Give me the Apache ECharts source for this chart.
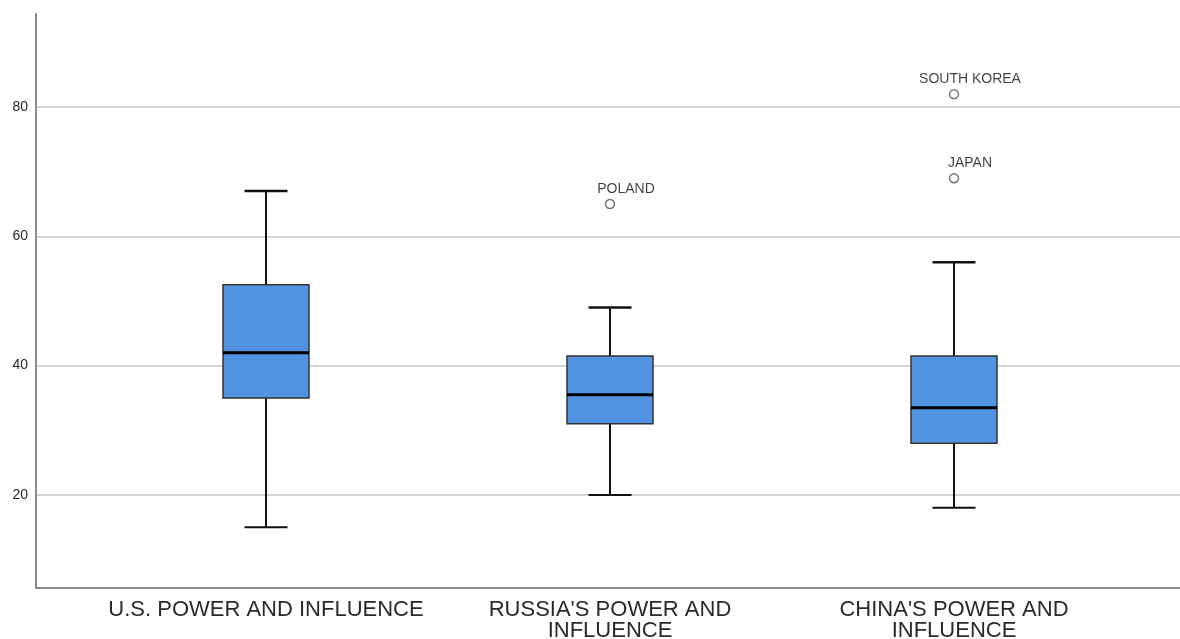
<!DOCTYPE html>
<html>
<head>
<meta charset="utf-8">
<title>Power and influence ratings</title>
<script src="https://cdn.jsdelivr.net/npm/echarts@6/dist/echarts.min.js"></script>
<style>
  html, body { margin: 0; padding: 0; background: #ffffff; }
  #chart { width: 1180px; height: 639px; }
</style>
</head>
<body>
<div id="chart"></div>
<script>
// Category labels along the horizontal axis
const categories = [
  'U.S. POWER AND INFLUENCE',
  "RUSSIA'S POWER AND\nINFLUENCE",
  "CHINA'S POWER AND\nINFLUENCE"
];

// Five-number summaries: [whisker low, Q1, median, Q3, whisker high]
const usStats = [15, 35, 42, 52.5, 67];
const russiaStats = [20, 31, 35.5, 41.5, 49];
const chinaStats = [18, 28, 33.5, 41.5, 56];

// Outlying cases: [category index, value]
const outlierNames = ['POLAND', 'SOUTH KOREA', 'JAPAN'];
const outlierPoints = [[1, 65], [2, 82], [2, 69]];

// Value axis range and tick step
const yMin = 5.6;
const yMax = 94.4;
const yStep = 20;

const boxData = [usStats, russiaStats, chinaStats].map((s, i) => [i].concat(s));
const outlierData = outlierPoints.map((p, i) => ({ value: p, name: outlierNames[i] }));

const FONT = "'Liberation Sans', Arial, sans-serif";

const chart = echarts.init(document.getElementById('chart'));

function renderBox(params, api) {
  const idx = api.value(0);
  const lo = api.value(1), q1 = api.value(2), med = api.value(3), q3 = api.value(4), hi = api.value(5);
  const cx = api.coord([idx, med])[0];
  const y = v => api.coord([idx, v])[1];
  const band = api.size([1, 0])[0];
  const bw = band * 0.25;
  const cw = bw * 0.5;
  const lineStyle = { stroke: '#111111', lineWidth: 2 };
  return {
    type: 'group',
    children: [
      { type: 'line', shape: { x1: cx, y1: y(q3), x2: cx, y2: y(hi) }, style: lineStyle },
      { type: 'line', shape: { x1: cx, y1: y(q1), x2: cx, y2: y(lo) }, style: lineStyle },
      { type: 'line', shape: { x1: cx - cw / 2, y1: y(hi), x2: cx + cw / 2, y2: y(hi) }, style: { stroke: '#111111', lineWidth: 2.5 } },
      { type: 'line', shape: { x1: cx - cw / 2, y1: y(lo), x2: cx + cw / 2, y2: y(lo) }, style: { stroke: '#111111', lineWidth: 2 } },
      {
        type: 'rect',
        shape: { x: cx - bw / 2, y: y(q3), width: bw, height: y(q1) - y(q3) },
        style: { fill: '#5294e2', stroke: '#333333', lineWidth: 1.5 }
      },
      { type: 'line', shape: { x1: cx - bw / 2, y1: y(med), x2: cx + bw / 2, y2: y(med) }, style: { stroke: '#000000', lineWidth: 3 } }
    ]
  };
}

const option = {
  backgroundColor: '#ffffff',
  animation: false,
  grid: [
    { left: 36, right: 0, top: 14, bottom: 51, containLabel: false, outerBoundsMode: 'none' },
    { left: 94, right: 54, top: 14, bottom: 51, containLabel: false, outerBoundsMode: 'none' }
  ],
  xAxis: [
    {
      gridIndex: 0, type: 'value', min: 0, max: 1,
      axisLine: { show: true, lineStyle: { color: '#8a8a8a', width: 2 } },
      axisTick: { show: false }, axisLabel: { show: false }, splitLine: { show: false }
    },
    {
      gridIndex: 1, type: 'category', data: categories,
      axisLine: { show: false }, axisTick: { show: false }, splitLine: { show: false },
      axisLabel: {
        interval: 0, margin: 11, color: '#2a2a2a', fontFamily: FONT,
        fontSize: 22, lineHeight: 21
      }
    }
  ],
  yAxis: [
    {
      gridIndex: 0, type: 'value', min: yMin, max: yMax,
      minInterval: yStep, maxInterval: yStep,
      axisLine: { show: true, lineStyle: { color: '#8a8a8a', width: 2 } },
      axisTick: { show: false },
      axisLabel: {
        margin: 8, color: '#2a2a2a', fontFamily: FONT, fontSize: 14,
        showMinLabel: false, showMaxLabel: false,
        formatter: v => (Math.abs(v % yStep) < 1e-6 ? String(v) : '')
      },
      splitLine: {
        show: true, showMinLine: false, showMaxLine: false,
        lineStyle: { color: '#d4d4d4', width: 2 }
      }
    },
    {
      gridIndex: 1, type: 'value', min: yMin, max: yMax,
      minInterval: yStep, maxInterval: yStep,
      axisLine: { show: false }, axisTick: { show: false },
      axisLabel: { show: false }, splitLine: { show: false }
    }
  ],
  series: [
    {
      type: 'custom',
      xAxisIndex: 1, yAxisIndex: 1,
      data: boxData,
      encode: { x: 0, y: [1, 2, 3, 4, 5] },
      renderItem: renderBox,
      z: 3
    },
    {
      type: 'scatter',
      xAxisIndex: 1, yAxisIndex: 1,
      data: outlierData,
      symbol: 'circle', symbolSize: 9,
      itemStyle: { color: '#ffffff', borderColor: '#555555', borderWidth: 1.5 },
      label: {
        show: true, formatter: p => p.name,
        position: 'top', offset: [16, 2],
        color: '#111111', fontFamily: FONT, fontSize: 14
      },
      z: 4
    }
  ]
};

chart.setOption(option);
</script>
</body>
</html>
